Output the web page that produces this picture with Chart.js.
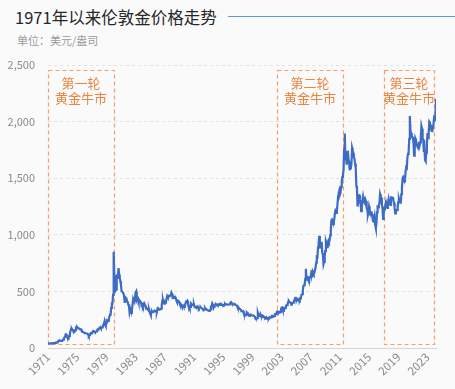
<!DOCTYPE html>
<html>
<head>
<meta charset="utf-8">
<script src="https://cdn.jsdelivr.net/npm/chart.js@4.4.0/dist/chart.umd.min.js"></script>
<style>
  body { margin: 0; background: #fafafa; font-family: "Noto Sans CJK SC", sans-serif; }
  #wrap { position: relative; width: 455px; height: 389px; }
  #title { position: absolute; left: 15px; top: 5px; font-size: 16.5px; color: #262626; white-space: nowrap; }
  #titleLine { position: absolute; left: 228px; top: 16px; width: 227px; height: 1px; background: #5b9bd5; }
  #unit { position: absolute; left: 17px; top: 32px; font-size: 11px; color: #9a9a9a; }
  canvas { position: absolute; left: 0; top: 0; }
</style>
</head>
<body>
<div id="wrap">
  <div id="title">1971年以来伦敦金价格走势</div>
  <div id="titleLine"></div>
  <div id="unit">单位：美元/盎司</div>
  <canvas id="chart" width="455" height="389"></canvas>
</div>
<script>
// monthly London gold price, USD/oz, starting Jan 1971
const startYear = 1971;
const goldPrices = [
  38, 38.7, 38.9, 39, 40.5, 40.1, 41, 42.7, 42, 42.5, 42.9, 43.5,          // 1971
  45.7, 48.3, 48.3, 49, 54.6, 62, 65.7, 67, 65.5, 64.9, 62.9, 63.9,        // 1972
  65, 74, 84, 90, 102, 120, 120, 106, 103, 100, 94, 106,                   // 1973
  129, 150, 168, 172, 163, 154, 143, 154, 151, 158, 181, 190,              // 1974
  176, 180, 178, 170, 167, 164, 165, 163, 143, 142, 142, 140,              // 1975
  132, 132, 132, 128, 127, 126, 118, 106, 114, 117, 131, 134,              // 1976
  132, 136, 148, 149, 147, 141, 143, 145, 149, 158, 162, 160,              // 1977
  173, 178, 184, 175, 176, 183, 189, 206, 212, 235, 206, 194,              // 1978
  227, 245, 242, 239, 257, 279, 295, 301, 355, 392, 392, 470,              // 1979
  850, 640, 490, 520, 515, 650, 620, 640, 705, 650, 620, 590,              // 1980
  557, 500, 499, 496, 480, 461, 409, 410, 443, 437, 413, 410,              // 1981
  384, 374, 320, 350, 333, 310, 340, 380, 435, 422, 414, 444,              // 1982
  490, 500, 421, 432, 438, 413, 423, 416, 411, 394, 382, 388,              // 1983
  371, 386, 395, 381, 377, 377, 348, 348, 341, 340, 341, 320,              // 1984
  303, 290, 320, 325, 316, 317, 317, 330, 324, 326, 325, 322,              // 1985
  345, 339, 346, 340, 342, 343, 348, 376, 418, 423, 398, 391,              // 1986
  408, 401, 409, 438, 460, 450, 450, 461, 460, 465, 466, 490,              // 1987
  477, 442, 443, 452, 451, 452, 437, 427, 413, 406, 420, 419,              // 1988
  404, 388, 390, 384, 371, 367, 375, 365, 362, 367, 392, 409,              // 1989
  410, 417, 394, 375, 369, 353, 362, 395, 389, 381, 381, 378,              // 1990
  384, 364, 363, 358, 357, 367, 368, 356, 349, 359, 360, 361,              // 1991
  354, 354, 345, 338, 337, 341, 353, 343, 345, 345, 335, 335,              // 1992
  330, 327, 330, 342, 367, 371, 392, 378, 355, 365, 374, 383,              // 1993
  387, 382, 384, 378, 381, 386, 385, 380, 391, 389, 384, 379,              // 1994
  379, 377, 382, 391, 385, 387, 386, 383, 383, 383, 386, 387,              // 1995
  400, 405, 396, 393, 392, 385, 383, 387, 383, 381, 378, 369,              // 1996
  355, 347, 352, 344, 344, 341, 324, 324, 323, 325, 306, 289,              // 1997
  289, 297, 296, 308, 299, 292, 293, 284, 289, 296, 294, 291,              // 1998
  287, 287, 286, 282, 277, 262, 256, 257, 265, 311, 293, 283,              // 1999
  284, 300, 286, 280, 275, 285, 282, 274, 273, 270, 266, 272,              // 2000
  266, 262, 263, 261, 272, 270, 268, 273, 283, 283, 276, 276,              // 2001
  282, 296, 294, 302, 314, 321, 314, 310, 319, 317, 319, 333,              // 2002
  357, 359, 340, 328, 355, 356, 351, 360, 378, 379, 390, 407,              // 2003
  414, 405, 406, 404, 384, 392, 398, 400, 406, 420, 439, 442,              // 2004
  424, 423, 434, 429, 422, 431, 424, 438, 456, 470, 476, 510,              // 2005
  550, 555, 557, 610, 700, 596, 633, 632, 598, 586, 627, 629,              // 2006
  631, 665, 655, 679, 667, 655, 665, 665, 713, 754, 806, 803,              // 2007
  889, 923, 990, 909, 888, 890, 939, 839, 829, 740, 760, 816,              // 2008
  858, 943, 925, 890, 928, 946, 934, 949, 996, 1043, 1127, 1134,           // 2009
  1118, 1095, 1114, 1149, 1205, 1233, 1193, 1215, 1270, 1342, 1370, 1391,  // 2010
  1356, 1372, 1424, 1473, 1510, 1529, 1573, 1756, 1895, 1665, 1739, 1620,  // 2011
  1656, 1743, 1675, 1649, 1570, 1598, 1594, 1630, 1770, 1747, 1721, 1684,  // 2012
  1670, 1627, 1592, 1430, 1414, 1250, 1286, 1347, 1349, 1316, 1275, 1210,  // 2013
  1244, 1300, 1336, 1299, 1288, 1279, 1311, 1296, 1239, 1222, 1176, 1200,  // 2014
  1251, 1227, 1179, 1198, 1199, 1181, 1131, 1117, 1125, 1157, 1086, 1060,  // 2015
  1097, 1199, 1246, 1242, 1260, 1276, 1360, 1341, 1326, 1266, 1238, 1140,  // 2016
  1192, 1234, 1231, 1266, 1246, 1260, 1237, 1283, 1314, 1280, 1283, 1265,  // 2017
  1331, 1331, 1324, 1335, 1303, 1282, 1238, 1190, 1198, 1215, 1221, 1250,  // 2018
  1291, 1320, 1300, 1285, 1284, 1359, 1413, 1500, 1510, 1495, 1471, 1479,  // 2019
  1560, 1597, 1591, 1683, 1715, 1732, 1847, 2050, 1921, 1900, 1866, 1858,  // 2020
  1867, 1808, 1700, 1760, 1850, 1834, 1807, 1785, 1775, 1777, 1821, 1790,  // 2021
  1817, 1856, 1960, 1937, 1849, 1837, 1733, 1765, 1660, 1650, 1726, 1798,  // 2022
  1898, 1854, 1912, 2000, 1992, 1943, 1951, 1918, 1916, 1916, 1985, 2040,  // 2023
  2034, 2024, 2200                                                         // 2024
];

const xTickLabels = ['1971', '1975', '1979', '1983', '1987', '1991', '1995', '1999', '2003', '2007', '2011', '2015', '2019', '2023'];
const yTicks = [0, 500, 1000, 1500, 2000, 2500];

// the three bull markets (start / end year)
const bullStart = [1971, 2002.4, 2017.0];
const bullEnd = [1980.05, 2011.4, 2023.95];
const bullLabels = [['第一轮', '黄金牛市'], ['第二轮', '黄金牛市'], ['第三轮', '黄金牛市']];
const boxTop = 2455, boxBottom = 35;

const points = goldPrices.map((v, i) => ({ x: startYear + i / 12, y: v }));
const lastX = points[points.length - 1].x;

const bullBoxes = {
  id: 'bullBoxes',
  beforeDatasetsDraw(chart) {
    const { ctx, scales: { x, y } } = chart;
    ctx.save();
    ctx.setLineDash([4, 3]);
    ctx.strokeStyle = '#efa06a';
    ctx.lineWidth = 1.2;
    bullStart.forEach((s, i) => {
      const x0 = Math.round(x.getPixelForValue(s)) + 0.5;
      const x1 = Math.round(x.getPixelForValue(bullEnd[i])) + 0.5;
      const y0 = Math.round(y.getPixelForValue(boxTop)) + 0.5;
      const y1 = Math.round(y.getPixelForValue(boxBottom)) + 0.5;
      ctx.strokeRect(x0, y0, x1 - x0, y1 - y0);
    });
    ctx.restore();
  },
  afterDatasetsDraw(chart) {
    const { ctx, scales: { x, y } } = chart;
    ctx.save();
    ctx.fillStyle = '#ea8540';
    ctx.font = '13px "Noto Sans CJK SC"';
    ctx.textAlign = 'center';
    ctx.textBaseline = 'middle';
    bullStart.forEach((s, i) => {
      const cx = (x.getPixelForValue(s) + x.getPixelForValue(bullEnd[i])) / 2;
      const y0 = y.getPixelForValue(boxTop);
      ctx.fillText(bullLabels[i][0], cx, y0 + 13);
      ctx.fillText(bullLabels[i][1], cx, y0 + 28);
    });
    ctx.restore();
  }
};

new Chart(document.getElementById('chart'), {
  type: 'line',
  data: {
    datasets: [{
      data: points,
      borderColor: '#3d6cc4',
      borderWidth: 2.2,
      pointRadius: 0,
      tension: 0
    }]
  },
  options: {
    responsive: false,
    animation: false,
    layout: { padding: { top: 65, right: 19, left: 8, bottom: 0 } },
    plugins: { legend: { display: false }, tooltip: { enabled: false } },
    scales: {
      x: {
        type: 'linear',
        min: startYear,
        max: lastX,
        afterBuildTicks: s => { s.ticks = xTickLabels.map(t => ({ value: Number(t) })); },
        afterFit: s => { s.height = 41; },
        ticks: {
          autoSkip: false,
          minRotation: 45,
          maxRotation: 45,
          padding: 2,
          color: '#8a8a8a',
          font: { size: 11.5, family: '"Noto Sans CJK SC"' },
          callback: (v, i) => xTickLabels[i]
        },
        grid: { display: false, drawTicks: false },
        border: { display: true, color: '#d6d6d6' }
      },
      y: {
        min: 0,
        max: 2500,
        afterBuildTicks: s => { s.ticks = yTicks.map(v => ({ value: v })); },
        afterFit: s => { s.width = 40; },
        ticks: {
          padding: 13,
          color: '#8a8a8a',
          font: { size: 11, family: '"Noto Sans CJK SC"' },
          callback: v => v.toLocaleString('en-US')
        },
        grid: {
          drawTicks: false,
          color: c => (c.tick && c.tick.value === 0) ? 'rgba(0,0,0,0)' : '#e2e2e2'
        },
        border: { display: false, dash: [3, 3] }
      }
    }
  },
  plugins: [bullBoxes]
});
</script>
</body>
</html>
